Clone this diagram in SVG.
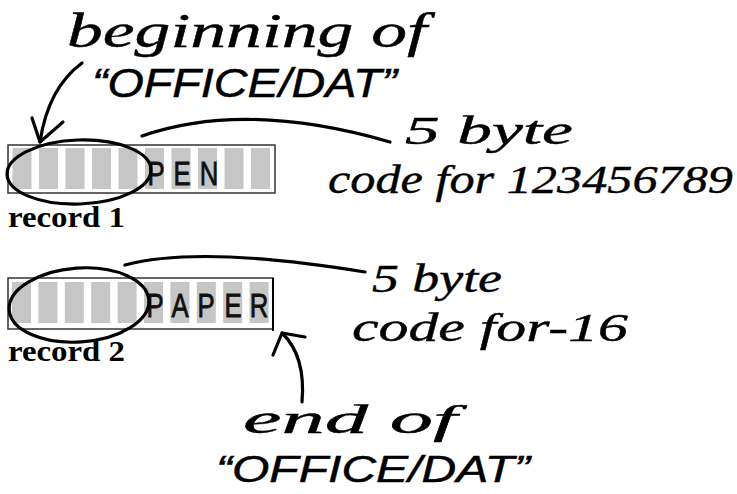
<svg xmlns="http://www.w3.org/2000/svg" width="737" height="494" viewBox="0 0 737 494">
<style>
.box{fill:#fff;stroke:#333;stroke-width:1.5}
.cell{fill:#c6c6c6}
.ch{font-family:"Liberation Sans",Arial,sans-serif;font-size:33px;fill:#111;stroke:#111;stroke-width:0.8;text-anchor:middle}
.rec{font-family:"Liberation Serif","Times New Roman",serif;font-weight:bold;font-size:29px;fill:#000}
.hand{font-family:"Liberation Serif","Times New Roman",serif;font-style:italic;fill:#000;stroke:#000;stroke-width:0.4}
.print{font-family:"Liberation Sans",Arial,sans-serif;font-style:italic;fill:#000;stroke:#000;stroke-width:0.5}
.ink{fill:none;stroke:#000;stroke-width:3.2;stroke-linecap:round;stroke-linejoin:round}
</style>
<defs>
<g id="cells1">
<rect class="cell" x="0" y="0" width="19" height="41"/>
</g>
</defs>
<rect width="737" height="494" fill="#fff"/>

<g id="record1">
<rect class="box" x="8" y="145" width="267" height="48"/>
<use href="#cells1" x="12.5" y="148"/>
<use href="#cells1" x="39" y="148"/>
<use href="#cells1" x="65.5" y="148"/>
<use href="#cells1" x="92" y="148"/>
<use href="#cells1" x="118.5" y="148"/>
<use href="#cells1" x="145" y="148"/>
<use href="#cells1" x="171.5" y="148"/>
<use href="#cells1" x="198" y="148"/>
<use href="#cells1" x="224.5" y="148"/>
<use href="#cells1" x="251" y="148"/>
<text class="ch" transform="translate(156,185) scale(0.78,1)">P</text>
<text class="ch" transform="translate(182,185) scale(0.78,1)">E</text>
<text class="ch" transform="translate(209,185) scale(0.78,1)">N</text>
<text class="rec" x="8" y="227" textLength="117" lengthAdjust="spacingAndGlyphs">record 1</text>
</g>

<g id="record2">
<rect class="box" x="8" y="278" width="265" height="51"/>
<use href="#cells1" x="12" y="282"/>
<use href="#cells1" x="38.4" y="282"/>
<use href="#cells1" x="64.8" y="282"/>
<use href="#cells1" x="91.2" y="282"/>
<use href="#cells1" x="117.6" y="282"/>
<use href="#cells1" x="144" y="282"/>
<use href="#cells1" x="170.4" y="282"/>
<use href="#cells1" x="196.8" y="282"/>
<use href="#cells1" x="223.2" y="282"/>
<use href="#cells1" x="249.6" y="282"/>
<text class="ch" transform="translate(155,317) scale(0.78,1)">P</text>
<text class="ch" transform="translate(180,317) scale(0.78,1)">A</text>
<text class="ch" transform="translate(206,317) scale(0.78,1)">P</text>
<text class="ch" transform="translate(233,317) scale(0.78,1)">E</text>
<text class="ch" transform="translate(259,317) scale(0.78,1)">R</text>
<line x1="273" y1="278" x2="273" y2="331" stroke="#000" stroke-width="2"/>
<text class="rec" x="8" y="361" textLength="117" lengthAdjust="spacingAndGlyphs">record 2</text>
</g>

<g id="label-beginning">
<text class="hand" x="67" y="47" font-size="48" textLength="360" lengthAdjust="spacingAndGlyphs">beginning of</text>
<text class="print" x="92" y="97" font-size="40" textLength="305" lengthAdjust="spacingAndGlyphs">“OFFICE/DAT”</text>
</g>

<g id="label-code1">
<text class="hand" x="405" y="144" font-size="40" textLength="168" lengthAdjust="spacingAndGlyphs">5 byte</text>
<text class="hand" x="328" y="193" font-size="40" textLength="405" lengthAdjust="spacingAndGlyphs">code for 123456789</text>
</g>

<g id="label-code2">
<text class="hand" x="372" y="292" font-size="40" textLength="130" lengthAdjust="spacingAndGlyphs">5 byte</text>
<text class="hand" x="352" y="341" font-size="40" textLength="276" lengthAdjust="spacingAndGlyphs">code for-16</text>
</g>

<g id="label-end">
<text class="hand" x="243" y="433" font-size="40" textLength="214" lengthAdjust="spacingAndGlyphs">end of</text>
<text class="print" x="216" y="482" font-size="37" textLength="314" lengthAdjust="spacingAndGlyphs">“OFFICE/DAT”</text>
</g>

<g id="connectors">
<ellipse class="ink" cx="79" cy="172" rx="72" ry="32" transform="rotate(-2 79 172)"/>
<ellipse class="ink" cx="79" cy="305" rx="70" ry="37" transform="rotate(-4 79 305)"/>
<path class="ink" d="M142,136 Q245,100 390,142"/>
<path class="ink" d="M125,265 Q200,245 365,272"/>
<path class="ink" d="M82,63 Q48,88 40,142"/>
<path class="ink" d="M32,118 L40,142 L63,122"/>
<path class="ink" d="M302,402 Q306,356 282,333"/>
<path class="ink" d="M273,355 L282,333 L305,337"/>
</g>
</svg>
